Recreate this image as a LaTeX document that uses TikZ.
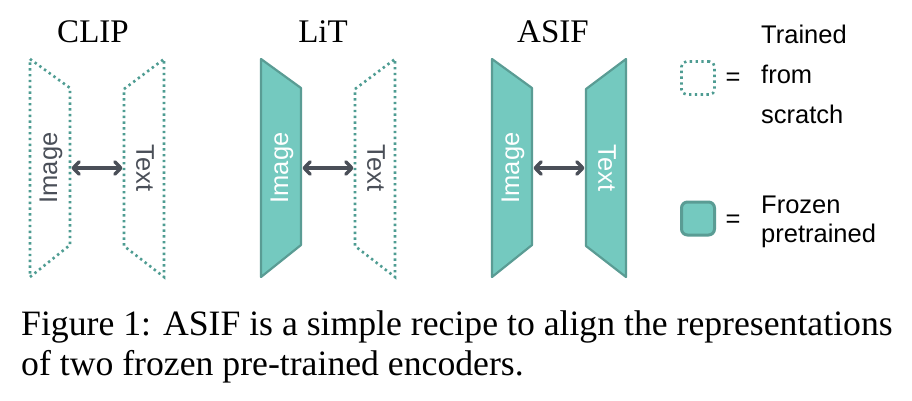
\documentclass[tikz,border=0pt]{standalone}
\usepackage{fontspec}
\setmainfont{Liberation Serif}
\setsansfont{Liberation Sans}
\usetikzlibrary{arrows.meta}
\definecolor{tealfill}{HTML}{74C9BF}
\definecolor{tealedge}{HTML}{5A9C94}
\definecolor{tealdot}{HTML}{4E9C92}
\definecolor{darkgray1}{HTML}{4A4F58}
\begin{document}
\begin{tikzpicture}[x=1pt,y=-1pt,
  frozen/.style={fill=tealfill,draw=tealedge,line width=2.2pt,line join=round},
  scratch/.style={draw=tealdot,line width=2.6pt,dash pattern=on 2.4pt off 3.4pt},
  enclabel/.style={font=\sffamily\fontsize{25.5}{25.5}\selectfont,inner sep=0pt},
  link/.style={draw=darkgray1,line width=3.4pt,shorten <=1.5pt,shorten >=1.5pt,{Straight Barb[length=6pt,width=12.5pt,line cap=round,line join=round]}-{Straight Barb[length=6pt,width=12.5pt,line cap=round,line join=round]}},
  title/.style={font=\fontsize{33}{33}\selectfont,anchor=base,inner sep=0pt},
  legtext/.style={font=\sffamily\fontsize{25.5}{25.5}\selectfont,anchor=base west,inner sep=0pt},
  captext/.style={font=\fontsize{35.7}{35.7}\selectfont,anchor=base west,inner sep=0pt}]
\useasboundingbox[fill=white] (0,0) rectangle (912,400);

% CLIP
\path[scratch] (30,59) -- (70,88) -- (70,245) -- (30,277) -- cycle;
\path[scratch] (124,89) -- (164,59) -- (164,277) -- (124,246) -- cycle;
\node[enclabel,text=darkgray1,rotate=90] (clipimg) at (51,168) {Image};
\node[enclabel,text=darkgray1,rotate=-90] (cliptxt) at (145,168) {Text};
\coordinate (clipa) at (70,168);
\coordinate (clipb) at (124,168);
\draw[link] (clipa) -- (clipb);
\node[title] (cliptitle) at (93,42) {CLIP};

% LiT
\begin{scope}[xshift=231pt]
\path[frozen] (30,59) -- (70,88) -- (70,245) -- (30,277) -- cycle;
\path[scratch] (124,89) -- (164,59) -- (164,277) -- (124,246) -- cycle;
\node[enclabel,text=white,rotate=90] (litimg) at (51,168) {Image};
\node[enclabel,text=darkgray1,rotate=-90] (littxt) at (145,168) {Text};
\coordinate (lita) at (70,168);
\coordinate (litb) at (124,168);
\draw[link] (lita) -- (litb);
\node[title] (littitle) at (92,42) {LiT};
\end{scope}

% ASIF
\begin{scope}[xshift=462pt]
\path[frozen] (30,59) -- (70,88) -- (70,245) -- (30,277) -- cycle;
\path[frozen] (124,89) -- (164,59) -- (164,277) -- (124,246) -- cycle;
\node[enclabel,text=white,rotate=90] (asifimg) at (51,168) {Image};
\node[enclabel,text=white,rotate=-90] (asiftxt) at (145,168) {Text};
\coordinate (asifa) at (70,168);
\coordinate (asifb) at (124,168);
\draw[link] (asifa) -- (asifb);
\node[title] (asiftitle) at (91,42) {ASIF};
\end{scope}

% legend
\node[scratch,rounded corners=5pt,minimum width=33pt,minimum height=33pt,inner sep=0pt] (legs) at (698,78) {};
\node[frozen,line width=3pt,rounded corners=6pt,minimum width=33pt,minimum height=33pt,inner sep=0pt] (legf) at (698,218.5) {};
\node[font=\sffamily\fontsize{25.5}{25.5}\selectfont,inner sep=0pt] (eqs) at (733,79) {=};
\node[font=\sffamily\fontsize{25.5}{25.5}\selectfont,inner sep=0pt] (eqf) at (733,221) {=};
\node[legtext] (l1) at (761,43) {Trained};
\node[legtext] (l2) at (761,83) {from};
\node[legtext] (l3) at (761,123) {scratch};
\node[legtext] (l4) at (761,213) {Frozen};
\node[legtext] (l5) at (761,242) {pretrained};

% caption
\node[captext] (cap1) at (21,335) {Figure 1: ASIF is a simple recipe to align the representations};
\node[captext] (cap2) at (21,375) {of two frozen pre-trained encoders.};
\end{tikzpicture}
\end{document}
